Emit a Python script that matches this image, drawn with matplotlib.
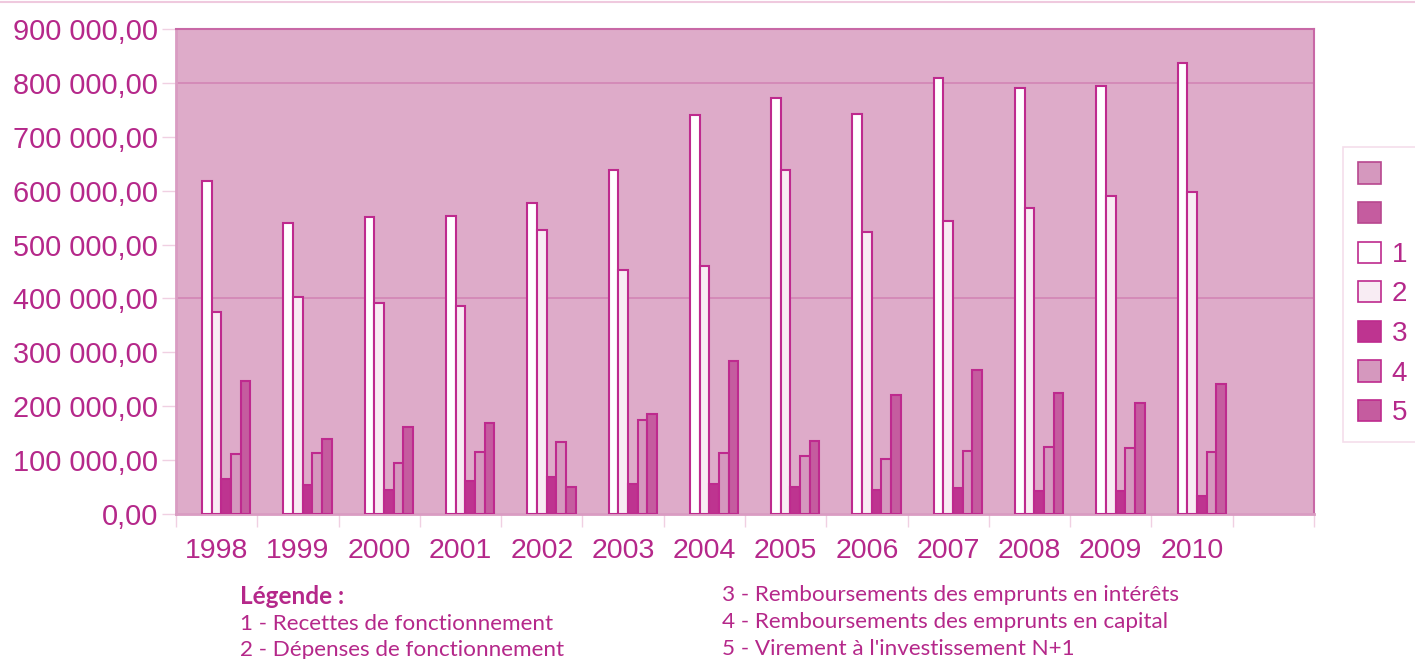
import matplotlib.pyplot as plt
import numpy as np
from matplotlib.patches import Patch
from matplotlib.lines import Line2D

# data
years = ['1998', '1999', '2000', '2001', '2002', '2003', '2004',
         '2005', '2006', '2007', '2008', '2009', '2010', '']
recettes = [618000, 540000, 551000, 553000, 577000, 638000, 740000,
            772000, 742000, 809000, 790000, 794000, 837000]
depenses = [375000, 403000, 392000, 386000, 527000, 453000, 460000,
            638000, 523000, 544000, 568000, 590000, 598000]
interets = [65000, 54000, 45000, 61000, 69000, 56000, 56000,
            50000, 45000, 48000, 43000, 43000, 33000]
capital = [111000, 113000, 95000, 115000, 134000, 174000, 113000,
           108000, 102000, 117000, 124000, 122000, 115000]
virement = [247000, 139000, 161000, 169000, 50000, 186000, 284000,
            135000, 221000, 267000, 225000, 206000, 241000]
series_labels = ['1', '2', '3', '4', '5']
legend_lines_left = ['1 - Recettes de fonctionnement',
                     '2 - Dépenses de fonctionnement']
legend_lines_right = ['3 - Remboursements des emprunts en intérêts',
                      '4 - Remboursements des emprunts en capital',
                      "5 - Virement à l'investissement N+1"]

# colours
txt = '#B5288A'
edge = '#BE2A8E'
bg = '#DEABC9'
fills = ['#FFFFFF', '#F8ECF3', '#BE3490', '#D598BE', '#C55C9F']
empty_fills = ['#D598BE', '#C55C9F']

plt.rcParams['font.family'] = ['Liberation Sans', 'DejaVu Sans']

fig = plt.figure(figsize=(14.15, 6.59), dpi=100)
ax = fig.add_axes([176 / 1415, 1 - 514 / 659, (1314 - 176) / 1415, (514 - 29) / 659])
ax.set_facecolor(bg)

x = np.arange(len(recettes))
w = 0.119
all_series = [recettes, depenses, interets, capital, virement]
for i, vals in enumerate(all_series):
    off = (i + 2 - 3) * w
    ax.bar(x + off, vals, width=w, color=fills[i], edgecolor=edge,
           linewidth=1.5, zorder=3)

ax.set_xlim(-0.5, len(years) - 0.5)
ax.set_ylim(0, 900000)
ax.set_yticks(np.arange(0, 900001, 100000))
ax.set_yticklabels([f'{int(v):,}'.replace(',', ' ') + ',00' if v else '0,00'
                    for v in np.arange(0, 900001, 100000)])
ax.set_xticks(np.arange(len(years)))
ax.set_xticklabels(years)
ax.set_xticks(np.arange(len(years) + 1) - 0.5, minor=True)
ax.tick_params(axis='x', which='major', length=0, pad=17, labelsize=20.5, labelcolor=txt)
ax.tick_params(axis='x', which='minor', length=9, color='#F0D0E2', width=1)
ax.tick_params(axis='y', length=10, color='#F0D0E2', width=1, pad=3,
               labelsize=20.8, labelcolor=txt)

for yv in [400000, 800000]:
    ax.axhline(yv, color='#D285B5', linewidth=1.2, zorder=1)

for s in ['top', 'right']:
    ax.spines[s].set_color('#C868A6')
    ax.spines[s].set_linewidth(1.5)
for s in ['left', 'bottom']:
    ax.spines[s].set_color('#D99CC2')
    ax.spines[s].set_linewidth(2)

# legend
handles = [Patch(facecolor=c, edgecolor='#B8478F', linewidth=1.2) for c in empty_fills]
handles += [Patch(facecolor=c, edgecolor=edge, linewidth=1.2) for c in fills]
labels = [' ', ' '] + series_labels
leg = fig.legend(handles, labels, loc='upper left',
                 bbox_to_anchor=(1343 / 1415, 1 - 147 / 659),
                 fontsize=20, labelcolor=txt, handlelength=0.8, handleheight=0.8,
                 handletextpad=0.4, labelspacing=0.48, borderpad=0.55,
                 borderaxespad=0, fancybox=False, frameon=True)
leg.get_frame().set_edgecolor('#F2D6E6')
leg.get_frame().set_linewidth(1.2)

# top border line of the page
fig.add_artist(Line2D([0, 1], [1 - 1.5 / 659, 1 - 1.5 / 659], color='#EFC9DE', linewidth=1.5))

# text legend below the chart
tf = ['Lato', 'DejaVu Sans']
fig.text(240 / 1415, 1 - 597 / 659, 'Légende :', color=txt, fontsize=17.5,
         fontweight='bold', family=tf, va='center')
for k, line in enumerate(legend_lines_left):
    fig.text(240 / 1415, 1 - (624 + 26.5 * k) / 659, line, color=txt,
             fontsize=16.2, family=tf, va='center')
for k, line in enumerate(legend_lines_right):
    fig.text(722 / 1415, 1 - (595 + 26.8 * k) / 659, line, color=txt,
             fontsize=16.2, family=tf, va='center')

fig.savefig('out.png', dpi=100)
